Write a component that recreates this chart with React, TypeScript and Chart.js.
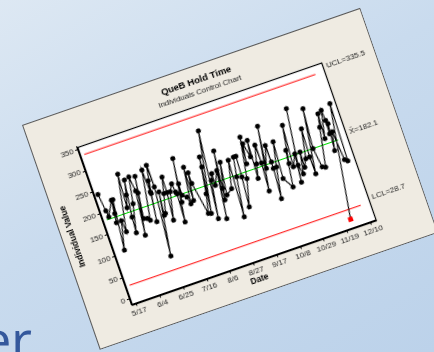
import React, { useEffect, useRef } from "react";
import { Chart, registerables } from "chart.js";
Chart.register(...registerables);

const TITLE = "QueB Hold Time";
const SUBTITLE = "Individuals Control Chart";
const X_TITLE = "Date";
const Y_TITLE = "Individual Value";
const TICK_DAYS = [0, 21, 42, 63, 84, 105, 126, 147, 168, 189, 210];
const TICK_LABELS = ["5/17", "6/4", "6/25", "7/16", "8/6", "8/27", "9/17", "10/8", "10/29", "11/19", "12/10"];
const Y_TICKS = [0, 50, 100, 150, 200, 250, 300, 350];

// observation date (days after first tick), in worksheet order
const OBS_DAYS = [
  -0.7, 1.1, 1.8, 8.5, 6.3, 7.5, 9.8, 5.1, 10.8, 11.8,
  20.8, 19.0, 21.9, 24.5, 20.4, 19.5, 24.9, 28.9, 30.5, 26.0,
  31.9, 34.0, 29.3, 32.2, 34.2, 41.3, 42.0, 43.4, 39.0, 42.3,
  46.2, 46.6, 40.7, 48.9, 46.7, 48.2, 52.4, 55.5, 55.2, 52.8,
  58.0, 61.3, 62.2, 62.9, 61.6, 69.3, 64.5, 66.9, 66.6, 69.9,
  71.3, 75.5, 74.3, 77.6, 77.6, 82.6, 86.3, 91.1, 90.2, 85.0,
  97.5, 89.2, 94.2, 96.3, 96.0, 101.2, 95.9, 104.2, 100.9, 99.6,
  106.2, 102.6, 108.1, 113.3, 110.4, 115.4, 118.3, 120.5, 119.6, 117.2,
  123.2, 129.1, 127.0, 129.4, 132.1, 134.0, 132.2, 135.0, 138.8, 139.2,
  137.6, 146.2, 141.6, 147.0, 147.5, 147.2, 145.3, 150.1, 154.4, 152.2,
  157.9, 162.2, 161.1, 166.4, 163.7, 168.4, 165.9, 174.2, 167.9, 169.8,
  173.1, 172.7, 175.9, 180.7, 179.5, 179.7, 187.5, 184.5, 186.8, 189.5,
  195.8, 198.1, 196.8, 201.7, 202.4, 201.9, 203.4, 201.3, 204.5, 206.7,
  209.0, 210.5, 195.0
];
const OBS_VALUES = [
  242, 202, 187, 220, 169, 190, 220, 106, 170, 143,
  270, 193, 220, 253, 170, 134, 197, 256, 222, 122,
  216, 253, 158, 156, 150, 261, 209, 234, 142, 205,
  268, 217, 60, 203, 150, 153, 196, 232, 196, 133,
  195, 211, 191, 186, 121, 263, 165, 206, 179, 172,
  155, 237, 160, 222, 197, 122, 165, 247, 224, 120,
  302, 104, 189, 203, 176, 206, 98, 249, 164, 138,
  221, 147, 157, 219, 89, 178, 222, 222, 174, 106,
  167, 259, 198, 243, 210, 247, 159, 191, 231, 189,
  125, 269, 174, 223, 184, 169, 100, 170, 225, 141,
  116, 198, 168, 253, 158, 184, 120, 285, 158, 136,
  184, 149, 166, 232, 167, 127, 273, 182, 137, 134,
  222, 251, 194, 256, 232, 201, 223, 162, 203, 136,
  131, 264, 6.5
];

const UCL = 335.5;
const CENTER = 182.1;
const LCL = 28.7;
const LIMIT_SPAN = [-0.5, 207];

const FONT = "'Liberation Sans', Arial, sans-serif";
const PANEL_W = 358;
const PANEL_H = 238;

const panelPlugin = {
  id: "panel",
  beforeDraw(chart: any) {
    const { ctx, chartArea } = chart;
    ctx.save();
    ctx.fillStyle = "#efebe2";
    ctx.fillRect(0, 0, PANEL_W, PANEL_H);
    ctx.strokeStyle = "#5a5a5a";
    ctx.lineWidth = 1;
    ctx.strokeRect(0.5, 0.5, PANEL_W - 1, PANEL_H - 1);
    ctx.fillStyle = "#ffffff";
    ctx.fillRect(chartArea.left, chartArea.top, chartArea.right - chartArea.left, chartArea.bottom - chartArea.top);
    ctx.restore();
  },
  afterDraw(chart: any) {
    const { ctx, chartArea, scales } = chart;
    ctx.save();
    ctx.strokeStyle = "#000";
    ctx.lineWidth = 1.2;
    ctx.strokeRect(
      Math.round(chartArea.left) + 0.5,
      Math.round(chartArea.top) + 0.5,
      Math.round(chartArea.right - chartArea.left),
      Math.round(chartArea.bottom - chartArea.top)
    );
    ctx.textAlign = "center";
    ctx.textBaseline = "middle";
    ctx.fillStyle = "#000";
    ctx.font = `bold 9.5px ${FONT}`;
    ctx.fillText(TITLE, PANEL_W / 2, 15);
    ctx.fillStyle = "#222";
    ctx.font = `8px ${FONT}`;
    ctx.fillText(SUBTITLE, PANEL_W / 2, 27);
    ctx.textAlign = "left";
    const x = chartArea.right + 4;
    const labels: [string, number][] = [
      [`UCL=${UCL}`, UCL],
      [`X\u0304=${CENTER}`, CENTER],
      [`LCL=${LCL}`, LCL],
    ];
    labels.forEach(([t, v]) => {
      ctx.fillText(t, x, scales.y.getPixelForValue(v) - 4);
    });
    ctx.restore();
  },
};

export default function App() {
  const ref = useRef<HTMLCanvasElement | null>(null);
  useEffect(() => {
    if (!ref.current) return;
    const isOut = (c: any) => c.raw && (c.raw.y < LCL || c.raw.y > UCL);
    const tickFont = { family: FONT, size: 8 };
    const titleFont = { family: FONT, size: 8.5, weight: "bold" as const };
    const chart = new Chart(ref.current, {
      type: "scatter",
      data: {
        datasets: [
          {
            data: OBS_DAYS.map((d, i) => ({ x: d, y: OBS_VALUES[i] })),
            showLine: true,
            borderColor: "#000",
            borderWidth: 1.1,
            pointRadius: (c: any) => (isOut(c) ? 3.4 : 2.5),
            pointStyle: (c: any) => (isOut(c) ? "rect" : "circle"),
            pointBackgroundColor: (c: any) => (isOut(c) ? "#ff0000" : "#000"),
            pointBorderWidth: 0,
            order: 0,
          } as any,
          {
            data: [{ x: LIMIT_SPAN[0], y: UCL }, { x: LIMIT_SPAN[1], y: UCL }],
            showLine: true,
            borderColor: "#ff0000",
            borderWidth: 1,
            pointRadius: 0,
            order: 2,
          },
          {
            data: [{ x: LIMIT_SPAN[0], y: CENTER }, { x: LIMIT_SPAN[1], y: CENTER }],
            showLine: true,
            borderColor: "#00dd00",
            borderWidth: 1.1,
            pointRadius: 0,
            order: 1,
          },
          {
            data: [{ x: LIMIT_SPAN[0], y: LCL }, { x: LIMIT_SPAN[1], y: LCL }],
            showLine: true,
            borderColor: "#ff0000",
            borderWidth: 1,
            pointRadius: 0,
            order: 2,
          },
        ],
      },
      options: {
        animation: false,
        responsive: false,
        events: [],
        layout: { padding: { left: 0, top: 38.5, right: PANEL_W - 303, bottom: 0 } },
        plugins: { legend: { display: false }, tooltip: { enabled: false } },
        scales: {
          x: {
            type: "linear",
            min: -4.1,
            max: 214.8,
            afterFit: (s: any) => {
              s.height = 32.5;
            },
            afterBuildTicks: (s: any) => {
              s.ticks = TICK_DAYS.map((v) => ({ value: v }));
            },
            ticks: {
              autoSkip: false,
              maxRotation: 0,
              padding: 1,
              color: "#222",
              font: tickFont,
              callback: (_v: any, i: number) => TICK_LABELS[i],
            },
            grid: { drawOnChartArea: false, drawTicks: true, tickLength: 3, color: "#000" },
            border: { display: true, color: "#000", width: 1.2 },
            title: { display: true, text: X_TITLE, color: "#000", font: titleFont, padding: { top: 0, bottom: 9 } },
          },
          y: {
            type: "linear",
            min: -13,
            max: 357,
            afterFit: (s: any) => {
              s.width = 45;
            },
            afterBuildTicks: (s: any) => {
              s.ticks = Y_TICKS.map((v) => ({ value: v }));
            },
            ticks: { padding: 2, color: "#222", font: tickFont, callback: (v: any) => String(v) },
            grid: { drawOnChartArea: false, drawTicks: true, tickLength: 3, color: "#000" },
            border: { display: true, color: "#000", width: 1.2 },
            title: { display: true, text: Y_TITLE, color: "#000", font: titleFont, padding: { top: 7, bottom: 0 } },
          },
        },
      },
      plugins: [panelPlugin],
    });
    return () => chart.destroy();
  }, []);

  return (
    <div
      style={{
        position: "fixed",
        left: 0,
        top: 0,
        width: 434,
        height: 352,
        overflow: "hidden",
        background: "linear-gradient(150deg, #dde8f3 0%, #c9dbee 45%, #bcd2ea 100%)",
      }}
    >
      <div
        style={{
          position: "absolute",
          left: -17,
          top: 314,
          fontFamily: "'Noto Sans', sans-serif",
          fontSize: 50,
          lineHeight: 1,
          color: "#34589c",
        }}
      >
        er
      </div>
      <div
        style={{
          position: "absolute",
          left: 21.7,
          top: 125,
          width: PANEL_W,
          height: PANEL_H,
          transform: "rotate(-19.1deg)",
          transformOrigin: "0 0",
        }}
      >
        <canvas ref={ref} width={PANEL_W} height={PANEL_H} style={{ display: "block" }} />
      </div>
    </div>
  );
}
